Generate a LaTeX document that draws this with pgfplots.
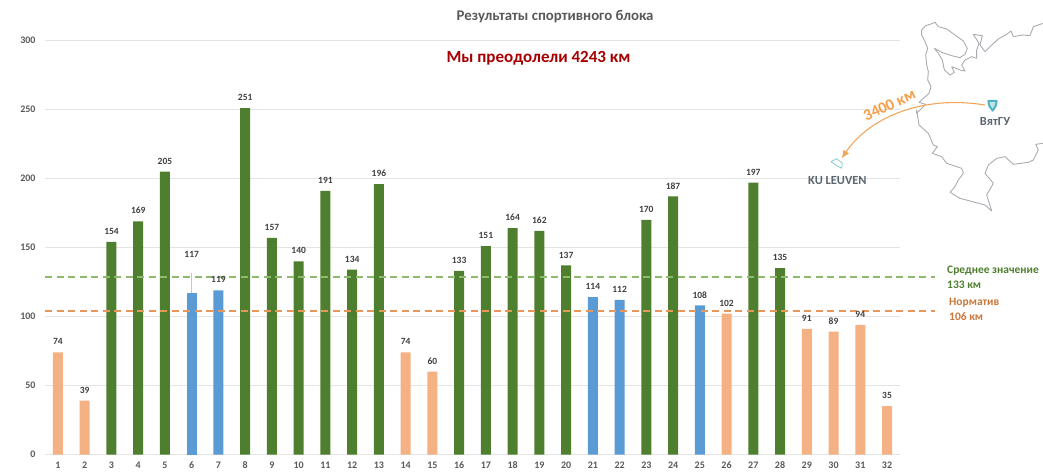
\documentclass[border=0pt]{standalone}
\usepackage{pgfplots}
\pgfplotsset{compat=1.18}
\usepackage{fontspec}
\setmainfont{Carlito}
\usetikzlibrary{arrows.meta}
\definecolor{barorange}{HTML}{F4B183}
\definecolor{bargreen}{HTML}{4E7F2E}
\definecolor{barblue}{HTML}{5B9BD5}
\definecolor{dashgreen}{HTML}{8DBB6B}
\definecolor{dashorange}{HTML}{E8975A}
\definecolor{gridc}{HTML}{E4E4E4}
\definecolor{txt}{HTML}{404040}
\definecolor{ticktxt}{HTML}{595959}
\definecolor{mapc}{HTML}{A8ACB1}
\definecolor{arrowc}{HTML}{F2A65A}
\definecolor{sideorange}{HTML}{C9763A}
\definecolor{maptxt}{HTML}{5A6670}
\definecolor{iconc}{HTML}{4FB3C4}
\begin{document}
\begin{tikzpicture}
\path[use as bounding box] (0,0) rectangle (1043pt,472pt);
\begin{axis}[
  at={(45pt,17.5pt)}, anchor=south west,
  scale only axis, width=855pt, height=414pt,
  xmin=0.514, xmax=32.486, ymin=0, ymax=300,
  clip=false,
  axis line style={draw=none},
  major tick length=0pt,
  ymajorgrids, grid style={gridc, line width=0.9pt},
  ytick={0,50,100,150,200,250,300},
  xtick={1,2,...,32},
  /pgf/number format/assume math mode=true,
  tick label style={font=\fontsize{10}{10}\selectfont\bfseries, text=ticktxt},
  xticklabel style={yshift=-3.5pt},
  yticklabel style={xshift=-6pt},
  ybar, bar shift=0pt, bar width=10pt,
  nodes near coords,
  nodes near coords style={font=\fontsize{9.5}{9.5}\selectfont\bfseries, text=txt, anchor=center, yshift=10.5pt},
]
\addplot[fill=barorange, draw=none] coordinates {(1,74)(2,39)(14,74)(15,60)(26,102)(29,91)(30,89)(31,94)(32,35)};
\addplot[fill=bargreen, draw=none] coordinates {(3,154)(4,169)(5,205)(8,251)(9,157)(10,140)(11,191)(12,134)(13,196)(16,133)(17,151)(18,164)(19,162)(20,137)(23,170)(24,187)(27,197)(28,135)};
\addplot[fill=barblue, draw=none] coordinates {(7,119)(21,114)(22,112)(25,108)};
\addplot[fill=barblue, draw=none, nodes near coords style={yshift=28pt}] coordinates {(6,117)};
\addplot[sharp plot, no markers, draw=gridc!70!gray, line width=0.8pt, nodes near coords={}] coordinates {(6,117)(6,131.5)};
\addplot[sharp plot, no markers, draw=dashgreen, line width=1.6pt, dash pattern=on 7pt off 4.5pt, nodes near coords={}] coordinates {(0.514,128.8)(33.795,128.8)};
\addplot[sharp plot, no markers, draw=dashorange, line width=1.6pt, dash pattern=on 7pt off 4.5pt, nodes near coords={}] coordinates {(0.514,104)(33.795,104)};
\end{axis}
\begin{scope}[xshift=0pt,yshift=472pt,x=1pt,y=-1pt]
\node[font=\fontsize{14.8}{15}\selectfont\bfseries, text=ticktxt] at (555,17) {Результаты спортивного блока};
\node[font=\fontsize{17}{17}\selectfont\bfseries, text=red!65!black] at (538.5,58) {Мы преодолели 4243 км};
\node[font=\fontsize{11.5}{12}\selectfont\bfseries, text=bargreen, anchor=west, inner sep=0pt] at (947,271) {Среднее значение};
\node[font=\fontsize{11.5}{12}\selectfont\bfseries, text=bargreen, anchor=west, inner sep=0pt] at (947,285) {133 км};
\node[font=\fontsize{11.5}{12}\selectfont\bfseries, text=sideorange, anchor=west, inner sep=0pt] at (949,303) {Норматив};
\node[font=\fontsize{11.5}{12}\selectfont\bfseries, text=sideorange, anchor=west, inner sep=0pt] at (949,317) {106 км};
\end{scope}
% map: upper part
\begin{scope}[xshift=905pt,yshift=457pt,x=0.33333pt,y=-0.33333pt]
\draw[mapc, line width=0.9pt, line join=round] (90,22)--(75,28)--(62,32)--(50,45)--(50,60)--(60,80)--(68,100)--(62,120)--(65,150)--(70,170)--(68,195)--(78,215)--(72,235)--(55,250)--(42,262)--(62,268)--(35,295);
\draw[mapc, line width=0.9pt, line join=round] (90,22)--(100,35)--(125,42)--(150,60)--(175,78)--(187,100)--(180,118)--(165,128)--(140,122)--(110,112)--(88,100)--(100,115)--(112,135)--(118,165)--(135,180)--(148,172)--(140,155)--(165,165)--(180,168)--(170,150)--(180,135)--(200,125)--(215,130)--(215,105)--(222,85)--(205,58)--(232,62)--(225,90)--(240,110)--(255,95)--(280,72)--(305,58)--(318,48)--(325,65)--(352,60)--(375,62)--(385,35)--(414,25);
\end{scope}
% map: lower part
\begin{scope}[xshift=905pt,yshift=367pt,x=0.33333pt,y=-0.33333pt]
\draw[mapc, line width=0.9pt, line join=round] (35,25)--(35,15)--(42,60)--(70,85)--(85,120)--(97,125)--(82,145)--(110,155)--(125,175)--(170,190)--(175,205)--(160,225)--(150,245)--(135,262)--(165,280)--(210,292)--(240,300)--(260,318)--(245,270)--(265,235)--(240,205)--(250,180)--(275,160)--(300,155)--(325,178)--(370,172)--(385,165)--(400,135)--(392,118)--(414,115);
\end{scope}
\begin{scope}[xshift=780pt,yshift=472pt,x=0.33333pt,y=-0.33333pt]
\draw[arrowc, line width=1.1pt, -{Latex[length=8pt,width=7pt]}] (615,315) .. controls (430,285) and (270,350) .. (185,475);
\node[font=\fontsize{16}{16}\selectfont\bfseries, text=arrowc!80!orange, rotate=25] at (328,315) {3400 км};
\draw[iconc, line width=2pt, line join=round, fill=iconc!35] (625,303) -- (650,303) -- (647,318) -- (638,332) -- (628,318) -- cycle;
\node[font=\fontsize{12.4}{12.4}\selectfont\bfseries, text=maptxt] at (645,366) {ВятГУ};
\draw[mapc!70!cyan, line width=0.7pt, line join=round] (153,485)--(170,476)--(187,490)--(185,505)--(170,497)--cycle;
\node[font=\fontsize{12.4}{12.4}\selectfont\bfseries, text=maptxt] at (172,541) {KU LEUVEN};
\end{scope}
\end{tikzpicture}
\end{document}
